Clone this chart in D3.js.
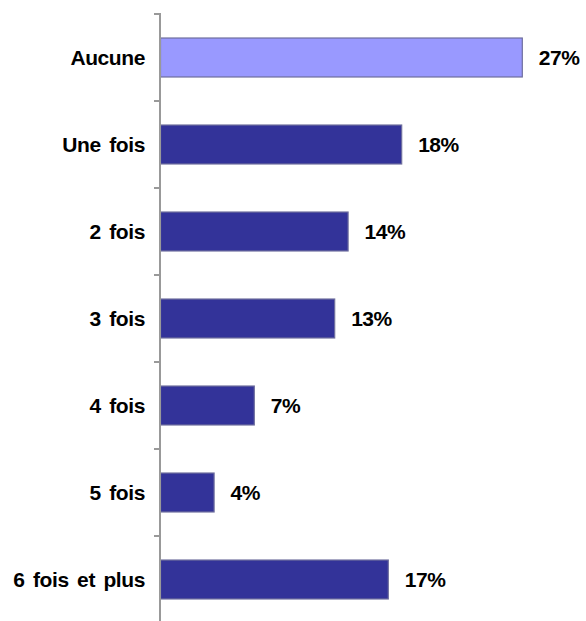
<!DOCTYPE html>
<html>
<head>
<meta charset="utf-8">
<script src="https://cdn.jsdelivr.net/npm/d3@7"></script>
<style>
  body { margin: 0; background: #fff; }
  text { font-family: "Liberation Sans", Arial, sans-serif; font-weight: bold; }
</style>
</head>
<body>
<div id="chart"></div>
<script>
// Categories and values (percent)
const categories = ['Aucune', 'Une fois', '2 fois', '3 fois', '4 fois', '5 fois', '6 fois et plus'];
const values = [27, 18, 14, 13, 7, 4, 17];
const labels = ['27%', '18%', '14%', '13%', '7%', '4%', '17%'];

const width = 586;
const height = 621;
const axisX = 160;

const svg = d3.select('#chart')
  .append('svg')
  .attr('width', width)
  .attr('height', height);

// Scales
const x = d3.scaleLinear().domain([0, 30]).range([axisX, axisX + 402]);
const y = d3.scaleBand().domain(categories).range([14, 623])
  .paddingInner(0.552)
  .paddingOuter(0.276);

const data = categories.map((c, i) => ({ cat: c, value: values[i], label: labels[i] }));

// Bars
svg.selectAll('rect.bar')
  .data(data)
  .enter()
  .append('rect')
  .attr('class', 'bar')
  .attr('x', x(0) + 0.5)
  .attr('y', d => y(d.cat))
  .attr('width', d => x(d.value) - x(0))
  .attr('height', y.bandwidth())
  .attr('fill', (d, i) => (i === 0 ? '#9999FF' : '#333399'))
  .attr('stroke', '#6E6E9E')
  .attr('stroke-width', 1.2);

// Y axis: line and ticks between categories
const step = y.step();
const tickPos = d3.range(categories.length + 1).map(i => 14 + i * step);
svg.append('line')
  .attr('x1', axisX).attr('x2', axisX)
  .attr('y1', 13).attr('y2', height)
  .attr('stroke', '#999')
  .attr('stroke-width', 2);
svg.selectAll('line.tick')
  .data(tickPos)
  .enter()
  .append('line')
  .attr('class', 'tick')
  .attr('x1', axisX - 6).attr('x2', axisX)
  .attr('y1', d => d).attr('y2', d => d)
  .attr('stroke', '#999')
  .attr('stroke-width', 2);

// Category labels
svg.selectAll('text.cat')
  .data(data)
  .enter()
  .append('text')
  .attr('class', 'cat')
  .attr('x', 145)
  .attr('y', d => y(d.cat) + y.bandwidth() / 2)
  .attr('dy', '0.36em')
  .attr('text-anchor', 'end')
  .attr('font-size', 21)
  .attr('letter-spacing', -0.4)
  .attr('word-spacing', 3)
  .text(d => d.cat);

// Value labels
svg.selectAll('text.val')
  .data(data)
  .enter()
  .append('text')
  .attr('class', 'val')
  .attr('x', d => x(d.value) + 17)
  .attr('y', d => y(d.cat) + y.bandwidth() / 2)
  .attr('dy', '0.38em')
  .attr('font-size', 21)
  .attr('letter-spacing', -0.5)
  .text(d => d.label);
</script>
</body>
</html>
